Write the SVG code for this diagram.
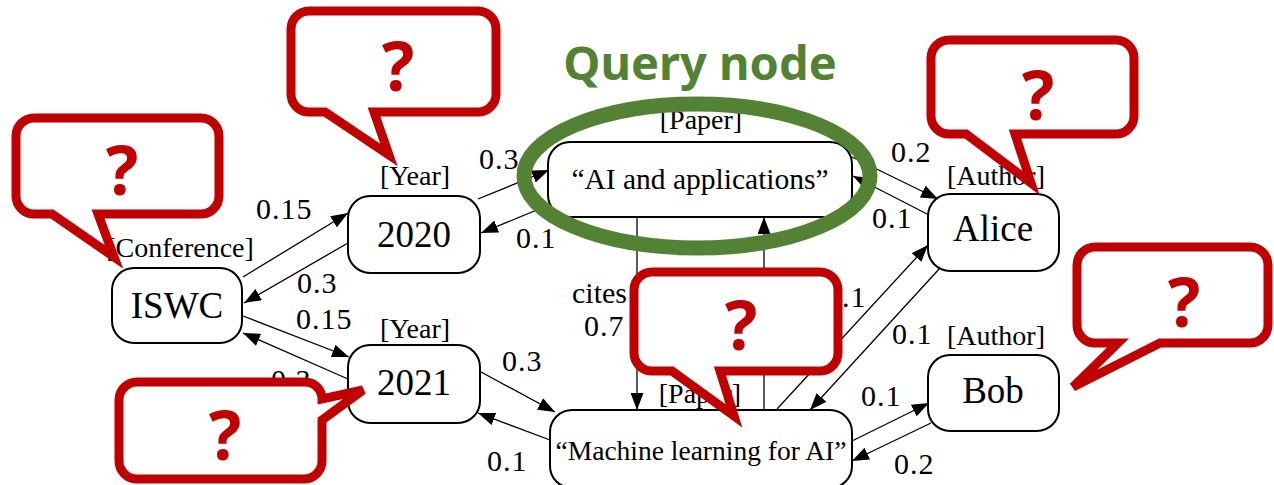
<svg xmlns="http://www.w3.org/2000/svg" width="1274" height="485" viewBox="0 0 1274 485">
<style>
.node rect{fill:#fff;stroke:#000;stroke-width:2}
.name{font-family:"Liberation Serif",serif;font-size:37px;text-anchor:middle;fill:#000}
.ptitle{font-family:"Liberation Serif",serif;font-size:27.5px;text-anchor:middle;fill:#000}
.type{font-family:"Liberation Serif",serif;font-size:28px;text-anchor:middle;fill:#000}
.lbl{font-family:"Liberation Serif",serif;font-size:30px;letter-spacing:1px;fill:#000}
.edges line{stroke:#000;stroke-width:1.3;marker-end:url(#ah)}
.callout path{fill:#fff;stroke:#C00000;stroke-width:9;stroke-linejoin:miter}
.q{font-family:"Noto Sans","Liberation Sans",sans-serif;font-weight:bold;font-size:68px;fill:#C00000;text-anchor:middle}
</style>
<defs>
<marker id="ah" markerUnits="userSpaceOnUse" markerWidth="17" markerHeight="13" refX="17" refY="6.5" orient="auto">
<path d="M0,0 L17,6.5 L0,13 Z" fill="#000"/>
</marker>
</defs>

<g id="connectors" class="edges">
<line x1="243" y1="277" x2="348" y2="213"/>
<line x1="348" y1="243" x2="244" y2="303"/>
<line x1="243" y1="316" x2="349" y2="357"/>
<line x1="348" y1="379" x2="243" y2="333"/>
<line x1="478" y1="199" x2="549" y2="170"/>
<line x1="549" y1="205" x2="481" y2="233"/>
<line x1="637" y1="217" x2="637" y2="410"/>
<line x1="764" y1="410" x2="764" y2="217"/>
<line x1="481" y1="372" x2="555" y2="412"/>
<line x1="550" y1="440" x2="478" y2="413"/>
<line x1="852" y1="157" x2="938" y2="199"/>
<line x1="929" y1="215" x2="853" y2="176"/>
<line x1="777" y1="409" x2="928" y2="245"/>
<line x1="940" y1="268" x2="810" y2="410"/>
<line x1="852" y1="441" x2="929" y2="403"/>
<line x1="931" y1="423" x2="852" y2="461"/>
</g>

<g id="edge-labels">
<text class="lbl" x="256" y="219">0.15</text>
<text class="lbl" x="297" y="293">0.3</text>
<text class="lbl" x="296" y="329">0.15</text>
<text class="lbl" x="271" y="390">0.3</text>
<text class="lbl" x="479" y="169">0.3</text>
<text class="lbl" x="516" y="248">0.1</text>
<text class="lbl" x="572" y="303" style="letter-spacing:0">cites</text>
<text class="lbl" x="584" y="336">0.7</text>
<text class="lbl" x="502" y="371">0.3</text>
<text class="lbl" x="487" y="471">0.1</text>
<text class="lbl" x="891" y="162">0.2</text>
<text class="lbl" x="872" y="228">0.1</text>
<text class="lbl" x="826" y="307">0.1</text>
<text class="lbl" x="892" y="344">0.1</text>
<text class="lbl" x="861" y="406">0.1</text>
<text class="lbl" x="894" y="474">0.2</text>
</g>

<g id="node-iswc" class="node">
<text class="type" x="180" y="257">[Conference]</text>
<rect x="112" y="268" width="130" height="75" rx="22"/>
<text class="name" x="177" y="318">ISWC</text>
</g>
<g id="node-2020" class="node">
<text class="type" x="415" y="185">[Year]</text>
<rect x="348" y="196" width="132" height="77" rx="22"/>
<text class="name" x="414" y="247">2020</text>
</g>
<g id="node-2021" class="node">
<text class="type" x="415" y="338">[Year]</text>
<rect x="348" y="345" width="132" height="78" rx="22"/>
<text class="name" x="414" y="395">2021</text>
</g>
<g id="node-ai" class="node">
<text class="type" x="701" y="129">[Paper]</text>
<rect x="548" y="142" width="304" height="75" rx="22"/>
<text class="ptitle" x="700" y="189" style="font-size:29.5px">“AI and applications”</text>
</g>
<g id="node-ml" class="node">
<text class="type" x="700" y="403">[Paper]</text>
<rect x="550" y="410" width="302" height="78" rx="22"/>
<text class="ptitle" x="701" y="460">“Machine learning for AI”</text>
</g>
<g id="node-alice" class="node">
<text class="type" x="996" y="185">[Author]</text>
<rect x="928" y="194" width="131" height="77" rx="22"/>
<text class="name" x="993" y="241">Alice</text>
</g>
<g id="node-bob" class="node">
<text class="type" x="996" y="345">[Author]</text>
<rect x="928" y="355" width="131" height="76" rx="22"/>
<text class="name" x="993" y="403">Bob</text>
</g>

<g id="query-highlight">
<ellipse cx="697" cy="176" rx="173" ry="72" fill="none" stroke="#548235" stroke-width="15"/>
<text x="700" y="80" font-family="'Noto Sans','Liberation Sans',sans-serif" font-weight="bold" font-size="47" fill="#548235" text-anchor="middle">Query node</text>
</g>

<g id="callout-iswc" class="callout">
<path d="M34,118 H201 A18,18 0 0 1 219,136 V196 A18,18 0 0 1 201,214 H98 L114,257 L52,214 H34 A18,18 0 0 1 16,196 V136 A18,18 0 0 1 34,118 Z"/>
<text class="q" x="122" y="195">?</text>
</g>
<g id="callout-2020" class="callout">
<path d="M309,11 H478 A18,18 0 0 1 496,29 V94 A18,18 0 0 1 478,112 H374 L389,155 L325,112 H309 A18,18 0 0 1 291,94 V29 A18,18 0 0 1 309,11 Z"/>
<text class="q" x="398" y="91">?</text>
</g>
<g id="callout-alice" class="callout">
<path d="M949,40 H1116 A18,18 0 0 1 1134,58 V116 A18,18 0 0 1 1116,134 H1015 L1031,183 L966,134 H949 A18,18 0 0 1 931,116 V58 A18,18 0 0 1 949,40 Z"/>
<text class="q" x="1038" y="120">?</text>
</g>
<g id="callout-bob" class="callout">
<path d="M1095,247 H1250 A18,18 0 0 1 1268,265 V325 A18,18 0 0 1 1250,343 H1160 L1073,387 L1118,343 H1095 A18,18 0 0 1 1077,325 V265 A18,18 0 0 1 1095,247 Z"/>
<text class="q" x="1184" y="327">?</text>
</g>
<g id="callout-ml" class="callout">
<path d="M652,272 H820 A18,18 0 0 1 838,290 V353 A18,18 0 0 1 820,371 H720 L734,416 L672,371 H652 A18,18 0 0 1 634,353 V290 A18,18 0 0 1 652,272 Z"/>
<text class="q" x="741" y="350">?</text>
</g>
<g id="callout-2021" class="callout">
<path d="M137,382 H305 A17,17 0 0 1 322,399 L363,390 L322,420 V461 A18,18 0 0 1 304,479 H137 A18,18 0 0 1 119,461 V400 A18,18 0 0 1 137,382 Z"/>
<text class="q" x="225" y="460">?</text>
</g>
</svg>
